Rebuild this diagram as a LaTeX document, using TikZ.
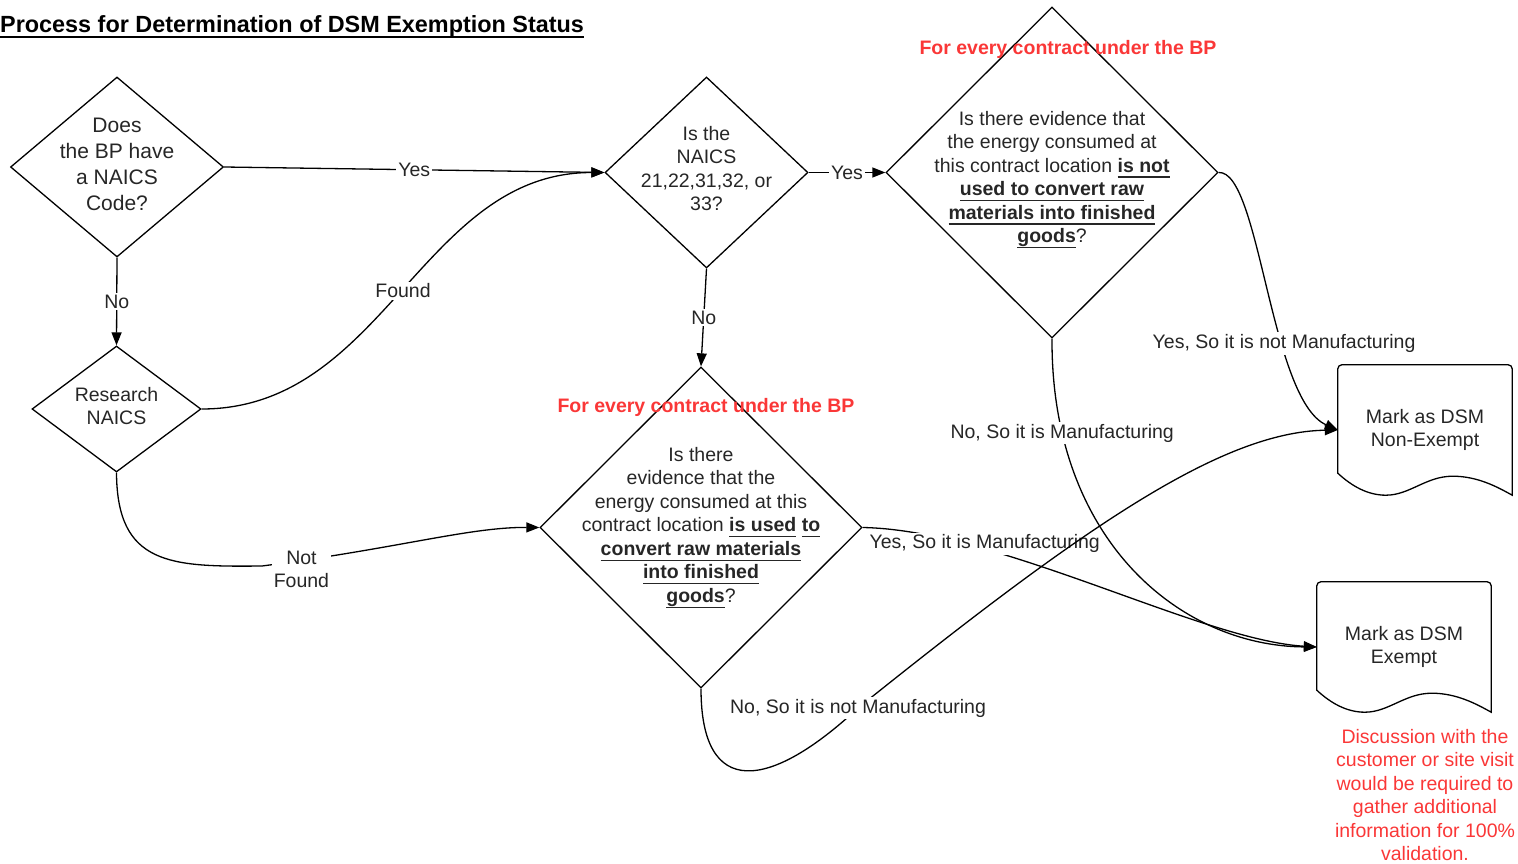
\documentclass[tikz,border=0pt]{standalone}
\usepackage{fontspec}
\setmainfont{Liberation Sans}
\usetikzlibrary{shapes.geometric,arrows.meta,calc}

\definecolor{notered}{RGB}{250,55,55}

% fett und unterstrichen
\newsavebox{\ulbox}
\newcommand{\ulbf}[1]{\sbox{\ulbox}{\textbf{#1}}\rlap{\rule[-5.5pt]{\wd\ulbox}{1.1pt}}\usebox{\ulbox}}
% Dokumentform mit Welle unten
\newcommand{\dokument}[1]{%
	\draw[linie] ($(#1.south west)+(0,-22)$) [rounded corners=4pt] -- (#1.north west)
		-- (#1.north east) [sharp corners] -- (#1.south east)
		.. controls ($(#1.south west)+(160,-8)$) and ($(#1.south west)+(140,-19)$) .. ($(#1.south west)+(115,-19)$)
		.. controls ($(#1.south west)+(88,-19)$) and ($(#1.south west)+(72,0)$) .. ($(#1.south west)+(48,0)$)
		.. controls ($(#1.south west)+(30,0)$) and ($(#1.south west)+(14,-9)$) .. ($(#1.south west)+(0,-22)$) -- cycle;}

\begin{document}
\begin{tikzpicture}[x=1pt, y=-1pt,
	txt/.style={font=\fontsize{19.5}{23.5}\selectfont, align=center, text=black!85},
	txtgross/.style={font=\fontsize{21}{26}\selectfont, align=center, text=black!85},
	raute/.style 2 args={diamond, draw, line width=1.3pt, inner sep=0pt, minimum width=#1, minimum height=#2},
	dok/.style={txt, minimum width=174pt, minimum height=130pt, inner sep=0pt},
	lbl/.style={txt, fill=white, inner sep=2pt},
	rot/.style={font=\fontsize{19.5}{23.5}\selectfont\bfseries, text=notered},
	notiz/.style={txt, text=notered},
	linie/.style={line width=1.3pt},
	pfeil/.style={linie, -{Triangle[length=13pt, width=10pt]}}]
	\useasboundingbox (0,0) rectangle (1518,864);

	% Titel
	\node[anchor=west, inner sep=0pt, font=\fontsize{23.4}{28}\selectfont\bfseries] (titel) at (0,27)
		{\sbox{\ulbox}{Process for Determination of DSM Exemption Status}\rlap{\rule[-5pt]{\wd\ulbox}{1.8pt}}\usebox{\ulbox}};

	% Entscheidungen
	\node[raute={213pt}{180pt}, label={[txtgross, yshift=3pt]center:{Does\\the BP have\\a NAICS\\Code?}}] (hascode) at (117,167) {};
	\node[raute={169pt}{126pt}, label={[txt, yshift=3pt]center:{Research\\NAICS}}] (research) at (116.5,409) {};
	\node[raute={203pt}{191pt}, label={[txt, yshift=4pt]center:{Is the\\NAICS\\21,22,31,32, or\\33?}}] (naics) at (706.5,172.5) {};
	\node[raute={332pt}{331pt}, label={[txt, yshift=-7pt]center:{Is there evidence that\\the energy consumed at\\this contract location \ulbf{is not}\\\ulbf{used to convert raw}\\\ulbf{materials into finished}\\\ulbf{goods}?}}] (notused) at (1052,172.5) {};
	\node[raute={322pt}{321pt}, label={[txt]center:{Is there\\evidence that the\\energy consumed at this\\contract location \ulbf{is used} \ulbf{to}\\\ulbf{convert raw materials}\\\ulbf{into finished}\\\ulbf{goods}?}}] (used) at (701,527.5) {};

	% Ergebnisse
	\node[dok] (nonexempt) at (1425,430) {Mark as DSM\\Non-Exempt};
	\dokument{nonexempt}
	\node[dok] (exempt) at (1404,647) {Mark as DSM\\Exempt};
	\dokument{exempt}

	% Hinweise
	\node[rot] (hinweisoben) at (1068,49) {For every contract under the BP};
	\node[rot] (hinweismitte) at (706,407) {For every contract under the BP};
	\node[notiz] (notiz) at (1425,795) {Discussion with the\\customer or site visit\\would be required to\\gather additional\\information for 100\%\\validation.};

	% Kanten
	\draw[pfeil] (hascode.east) -- node[lbl] {Yes} (naics.west);
	\draw[pfeil] (hascode.south) -- node[lbl] {No} (research.north);
	\draw[pfeil] (research.east) to[out=0, in=180] node[lbl] {Found} (naics.west);
	\draw[pfeil] (research.south) .. controls (117,565) and (170,567) .. (262,566)
		.. controls (400,548) and (470,527) .. (used.west) node[lbl, pos=0.1, yshift=-9pt] {Not\\Found};
	\draw[pfeil] (naics.south) -- node[lbl] {No} (used.north);
	\draw[pfeil] (naics.east) -- node[lbl] {Yes} (notused.west);
	\draw[pfeil] (notused.east) .. controls (1260,170) and (1270,400) .. (nonexempt.west)
		node[lbl, pos=0.65] {Yes, So it is not Manufacturing};
	\draw[pfeil] (used.east) .. controls (1000,530) and (1200,640) .. (exempt.west)
		node[lbl, pos=0.27, yshift=5pt] {Yes, So it is Manufacturing};
	\draw[pfeil] (notused.south) .. controls (1051,540) and (1180,646) .. (exempt.west)
		node[lbl, pos=0.17] {No, So it is Manufacturing};
	\draw[pfeil] (used.south) .. controls (701,800) and (770,790) .. (858,708)
		node[lbl] {No, So it is not Manufacturing}
		.. controls (1080,530) and (1220,432) .. (nonexempt.west);
\end{tikzpicture}
\end{document}
